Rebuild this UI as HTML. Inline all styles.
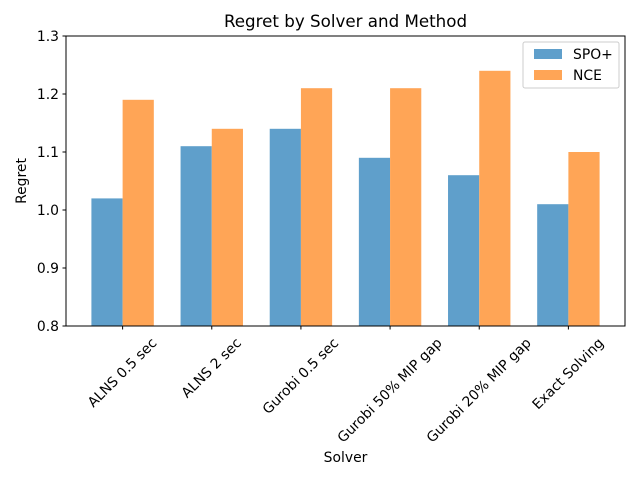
<!DOCTYPE html>
<html><head><meta charset="utf-8"><style>body{margin:0;background:#fff}svg{display:block;font-family:"DejaVu Sans","Liberation Sans",sans-serif}</style></head>
<body>
<svg id="chart" width="640" height="480"></svg>
<script>
const categories=["ALNS 0.5 sec","ALNS 2 sec","Gurobi 0.5 sec","Gurobi 50% MIP gap","Gurobi 20% MIP gap","Exact Solving"];
const spoValues=[1.02,1.11,1.14,1.09,1.06,1.01];
const nceValues=[1.19,1.14,1.21,1.21,1.24,1.10];
const yTicks=[0.8,0.9,1.0,1.1,1.2,1.3];
const yTickLabels=["0.8","0.9","1.0","1.1","1.2","1.3"];
const seriesNames=["SPO+","NCE"];

const NS="http://www.w3.org/2000/svg";
const svg=document.getElementById('chart');
const L=66,R=625,T=36,B=326;
const FS=13.9;
const xmin=-0.635,xmax=categories.length-1+0.635;
const X=v=>L+(v-xmin)/(xmax-xmin)*(R-L);
const Y=v=>B-(v-0.8)/(1.3-0.8)*(B-T);
function mk(tag,attrs,parent){const e=document.createElementNS(NS,tag);for(const k in attrs)e.setAttribute(k,attrs[k]);(parent||svg).appendChild(e);return e;}
const bw=0.35;
const colors=["#5f9fcb","#ffa556"];
[spoValues,nceValues].forEach((vals,s)=>{
  vals.forEach((v,i)=>{
    const x0=X(i+(s===0?-bw:0)),x1=X(i+(s===0?0:bw));
    const r=mk('rect',{x:x0,y:Y(v),width:x1-x0,height:Y(0.8)-Y(v),fill:colors[s]});
    
    
  });
});
const frame=mk('rect',{x:L,y:T,width:R-L,height:B-T,fill:'none',stroke:'#000','stroke-width':1});


yTicks.forEach((t,i)=>{
  const y=Y(t);
  mk('line',{x1:L-3.5,x2:L,y1:y,y2:y,stroke:'#000'});
  const tx=mk('text',{x:L-7,y:y+5,'text-anchor':'end','font-size':FS,fill:'#000'});
  tx.textContent=yTickLabels[i];
  
  
});
categories.forEach((c,i)=>{
  const x=X(i);
  mk('line',{x1:x,x2:x,y1:B,y2:B+3.5,stroke:'#000'});
  const tx=mk('text',{x:0,y:0,'text-anchor':'middle','font-size':FS,'dominant-baseline':'central',fill:'#000'});
  tx.textContent=c;
  
  
  const w=tx.getComputedTextLength(),h=14;
  const cy=B+10+(w+h)*0.3536;
  tx.setAttribute('transform','translate('+x+','+cy+') rotate(-45)');
});
const title=mk('text',{x:(L+R)/2,y:27,'text-anchor':'middle','font-size':16.7,fill:'#000'});
title.textContent="Regret by Solver and Method";


const xl=mk('text',{x:(L+R)/2,y:462,'text-anchor':'middle','font-size':FS,fill:'#000'});
xl.textContent="Solver";


const yl=mk('text',{x:0,y:0,'text-anchor':'middle','font-size':FS,fill:'#000',transform:'translate(26,'+((T+B)/2)+') rotate(-90)'});
yl.textContent="Regret";


const lg=mk('g',{});


mk('rect',{x:523,y:42,width:96,height:46,rx:2,fill:'#fff',stroke:'#ccc'},lg);
seriesNames.forEach((n,i)=>{
  const y=54+i*21;
  mk('rect',{x:534,y:y-5,width:28,height:10,fill:colors[i]},lg);
  const t=mk('text',{x:573,y:y+5,'font-size':FS,fill:'#000'},lg);
  t.textContent=n;
  
  
});
</script>
</body></html>
